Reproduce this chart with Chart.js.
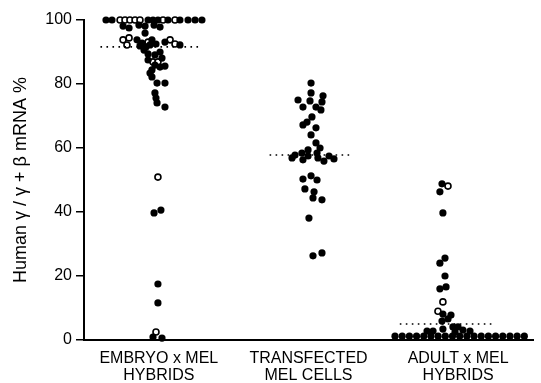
<!DOCTYPE html>
<html>
<head>
<meta charset="utf-8">
<script src="https://cdn.jsdelivr.net/npm/chart.js@4"></script>
<style>
  body { margin: 0; background: #fff; }
</style>
</head>
<body>
<canvas id="swarmChart" width="541" height="383"></canvas>
<script>
// group labels, one per band of width 100 on the x scale
const categories = [['EMBRYO x MEL', 'HYBRIDS'], ['TRANSFECTED', 'MEL CELLS'], ['ADULT x MEL', 'HYBRIDS']];
const categoryCenters = [50, 150, 250];
const yTicks = [0, 20, 40, 60, 80, 100];

// [position inside band, human gamma / gamma + beta mRNA %]
const embryoSolid = [
  [14.7, 100], [18.7, 100], [42.8, 100], [46.1, 100], [49.4, 100], [56.1, 100], [64.1, 100], [69.5, 100], [74.2, 100], [78.8, 100],
  [26.1, 98.1], [30.1, 97.5], [36.7, 98.4], [40.8, 98.1], [46.8, 98.4], [50.8, 97.8], [40.8, 95.9],
  [35.4, 93.8], [38.8, 92.8], [41.4, 91.6], [44.1, 92.2], [45.4, 93.8], [48.1, 92.5], [54.1, 93.1], [64.1, 92.2],
  [37.4, 91.9], [40.1, 90.6], [42.8, 89.4], [47.4, 89.1], [50.8, 90], [42.8, 87.5], [52.1, 88.1],
  [47.4, 85.9], [50.8, 85.3], [54.1, 85.6], [45.4, 84.4], [44.1, 83.4], [45.4, 82.2], [48.8, 80.3], [54.1, 80.3],
  [47.4, 77.2], [48.1, 75.6], [48.8, 74.1], [54.1, 72.8],
  [46.8, 39.7], [51.4, 40.6], [49.4, 17.5], [49.4, 11.6], [46.1, 0.9], [52.1, 0.6]
];
const embryoOpen = [
  [24.1, 100], [27.4, 100], [30.7, 100], [34.1, 100], [37.4, 100], [52.8, 100], [60.8, 100],
  [26.1, 93.8], [30.1, 94.4], [28.7, 92.2], [42.8, 93.1], [57.5, 93.8], [60.8, 92.5],
  [46.1, 86.9], [49.4, 86.9], [49.4, 50.9], [48.1, 2.5]
];
const transfectedSolid = [
  [151.7, 80.3], [151.7, 77.2], [143.0, 75], [151.0, 74.7], [159.7, 76.3], [159.0, 74.4], [146.3, 72.8], [155.0, 72.8],
  [158.3, 71.9], [152.3, 69.7], [149.0, 68.1], [146.3, 67.2], [155.0, 66.3], [151.7, 64.1], [155.0, 61.6], [157.7, 60],
  [149.7, 59.4], [141.0, 57.8], [145.6, 58.4], [139.0, 56.9], [146.3, 56.3], [149.7, 57.5], [155.7, 58.4], [156.3, 56.9],
  [160.3, 55.9], [163.7, 57.5], [167.0, 56.6], [146.3, 50.3], [151.7, 51.3], [155.7, 50], [147.6, 47.2], [153.7, 46.3],
  [153.0, 44.4], [159.0, 43.8], [150.3, 38.1], [153.0, 26.3], [159.0, 27.2]
];
const adultSolid = [
  [239.2, 48.8], [237.8, 46.3], [239.8, 39.7], [241.2, 25.6], [237.8, 24], [241.2, 20], [237.8, 16], [241.9, 16.6],
  [239.8, 8.1], [245.2, 7.8], [243.2, 6.6], [239.2, 5.9], [246.5, 4.1], [229.2, 2.8], [233.2, 2.8], [239.8, 3.4],
  [249.9, 4.1], [247.9, 2.5], [253.2, 3.1], [257.9, 2.8],
  [207.8, 1.2], [212.6, 1.2], [217.4, 1.2], [222.2, 1.2], [227.0, 1.2], [231.8, 1.2], [236.6, 1.2], [241.4, 1.2],
  [246.2, 1.2], [251.0, 1.2], [255.8, 1.2], [260.6, 1.2], [265.4, 1.2], [270.2, 1.2], [275.0, 1.2], [279.8, 1.2],
  [284.6, 1.2], [289.4, 1.2], [294.2, 1.2]
];
const adultOpen = [[243.2, 48.1], [239.8, 11.9], [236.5, 9]];

// dotted median of each group and how far it runs across the band
const medianValues = [91.6, 57.8, 5];
const medianFrom = [11, 124, 211];
const medianTo = [79, 179, 275];

const FONT = "'Liberation Sans', Arial, Helvetica, sans-serif";

function toPoints(list) {
  return list.map(p => ({ x: p[0], y: p[1] }));
}

function solidSet(list) {
  return {
    data: toPoints(list),
    pointRadius: 3.6,
    pointBackgroundColor: '#000',
    pointBorderColor: '#000',
    pointBorderWidth: 0,
    showLine: false,
    clip: false
  };
}

function openSet(list) {
  return {
    data: toPoints(list),
    pointRadius: 3,
    pointBackgroundColor: '#fff',
    pointBorderColor: '#000',
    pointBorderWidth: 1.6,
    showLine: false,
    clip: false
  };
}

const medianSets = medianValues.map((v, i) => ({
  data: [{ x: medianFrom[i], y: v }, { x: medianTo[i], y: v }],
  showLine: true,
  pointRadius: 0,
  borderColor: '#000',
  borderWidth: 1.6,
  borderDash: [1.6, 4.4],
  clip: false
}));

const ctx = document.getElementById('swarmChart').getContext('2d');
new Chart(ctx, {
  type: 'scatter',
  data: {
    datasets: [
      ...medianSets,
      solidSet(embryoSolid),
      solidSet(transfectedSolid),
      solidSet(adultSolid),
      openSet(embryoOpen),
      openSet(adultOpen)
    ]
  },
  options: {
    responsive: false,
    animation: false,
    events: [],
    layout: { padding: { top: 20, right: 8, left: 0, bottom: 0 } },
    plugins: {
      legend: { display: false },
      tooltip: { enabled: false }
    },
    scales: {
      x: {
        type: 'linear',
        min: 0,
        max: 300,
        afterBuildTicks: scale => {
          scale.ticks = categoryCenters.map(v => ({ value: v }));
        },
        afterFit: scale => { scale.height = 43; },
        grid: { display: false, drawTicks: false },
        border: { display: true, color: '#000', width: 2 },
        ticks: {
          autoSkip: false,
          maxRotation: 0,
          padding: 10,
          color: '#000',
          font: { family: FONT, size: 16, lineHeight: 1.06 },
          callback: value => categories[categoryCenters.indexOf(value)]
        }
      },
      y: {
        min: 0,
        max: 100,
        afterBuildTicks: scale => {
          scale.ticks = yTicks.map(v => ({ value: v }));
        },
        afterFit: scale => { scale.width = 84; },
        grid: {
          display: true,
          drawOnChartArea: false,
          drawTicks: true,
          tickLength: 8,
          color: '#000',
          lineWidth: 1.5
        },
        border: { display: true, color: '#000', width: 2 },
        ticks: {
          padding: 4,
          color: '#000',
          font: { family: FONT, size: 16 }
        },
        title: {
          display: true,
          text: 'Human γ / γ + β mRNA %',
          color: '#000',
          padding: { top: 10, bottom: 0 },
          font: { family: FONT, size: 18 }
        }
      }
    }
  }
});
</script>
</body>
</html>
